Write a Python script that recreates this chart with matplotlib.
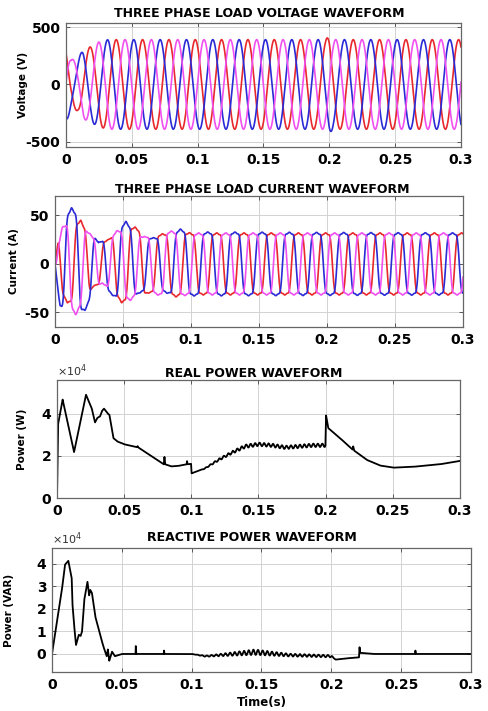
import numpy as np
import matplotlib
matplotlib.use('Agg')
import matplotlib.pyplot as plt

plt.rcParams['font.family'] = ['DejaVu Sans']

# ------------------------------------------------------------------ data
freq_hz = 50.0
x_ticks = [0, 0.05, 0.1, 0.15, 0.2, 0.25, 0.3]
x_tick_labels = ['0', '0.05', '0.1', '0.15', '0.2', '0.25', '0.3']

phase_colors = ['#e8282c', '#2a2ad6', '#f050f0']      # red, blue, magenta
phase_offsets = [-0.658, -0.325, 0.008]               # cycles (read from peak positions)
current_lag = 0.0008                                  # s

# voltage envelope (peak magnitude, V)
volt_env_t = [0, 0.004, 0.009, 0.013, 0.019, 0.025, 0.032, 0.197, 0.2, 0.203, 0.3]
volt_env_v = [330, 215, 230, 300, 330, 370, 390, 390, 425, 390, 390]

# current envelopes (peak magnitude, A) per phase
cur_red_t = [0, 0.0025, 0.009, 0.019, 0.029, 0.039, 0.049, 0.059, 0.069, 0.079, 0.089, 0.1, 0.3]
cur_red_a = [0, 27, 40, 45, 22, 25, 40, 38, 30, 31, 34, 32, 32]
cur_blue_t = [0, 0.0037, 0.012, 0.022, 0.032, 0.042, 0.052, 0.062, 0.072, 0.082, 0.092, 0.1, 0.3]
cur_blue_a = [0, 45, 58, 48, 22, 32, 44, 30, 27, 30, 36, 33, 32]
cur_mag_t = [0, 0.005, 0.015, 0.025, 0.035, 0.045, 0.055, 0.065, 0.075, 0.085, 0.1, 0.3]
cur_mag_a = [0, 37, 53, 32, 20, 34, 38, 28, 32, 34, 32, 32]
cur_harmonics = [1, 3, 5]
cur_harm_weights = [1.0, 0.2, 0.06]

# real power (W)
real_t = [0, 0.0008, 0.0042, 0.0127, 0.0216, 0.0258, 0.0283, 0.030, 0.032, 0.0335, 0.035,
          0.038, 0.039, 0.042, 0.045, 0.05, 0.0595, 0.06, 0.0605, 0.07, 0.0795, 0.080,
          0.0805, 0.085, 0.09, 0.0965, 0.0968, 0.0972, 0.0998, 0.1002, 0.11, 0.12, 0.13,
          0.14, 0.15, 0.16, 0.17, 0.18, 0.19, 0.1998, 0.2003, 0.2019, 0.2107, 0.2200,
          0.2205, 0.2212, 0.2306, 0.2405, 0.2504, 0.265, 0.285, 0.3]
real_p = [0, 35000, 46700, 21800, 49000, 42700, 35900, 38000, 38700, 41300, 42400,
          39900, 39500, 28400, 26800, 25500, 24100, 24600, 24000, 20000, 16000, 19500,
          16000, 15000, 15200, 16000, 17500, 16000, 16200, 11700, 14000, 18000, 21500,
          24500, 25500, 25000, 24000, 24500, 25000, 25000, 39200, 33200, 28400, 23000,
          24500, 22500, 18100, 15400, 14400, 14800, 16000, 17600]
real_ripple_t = [0, 0.105, 0.12, 0.14, 0.1995, 0.2, 0.3]
real_ripple_a = [0, 0, 500, 800, 800, 0, 0]

# reactive power (VAR)
reac_t = [0, 0.007, 0.0093, 0.0117, 0.0141, 0.0146, 0.0158, 0.0172, 0.0192, 0.0205,
          0.0215, 0.0231, 0.0254, 0.0266, 0.0274, 0.0286, 0.031, 0.0345, 0.0368, 0.0392,
          0.0400, 0.0410, 0.0430, 0.0450, 0.05, 0.0598, 0.0600, 0.0603, 0.08, 0.0802,
          0.0805, 0.1, 0.11, 0.12, 0.145, 0.17, 0.2, 0.203, 0.21, 0.2198, 0.2202, 0.2206,
          0.23, 0.26, 0.2602, 0.2605, 0.3]
reac_q = [0, 28000, 39600, 41300, 33600, 22500, 12900, 4000, 8500, 8000,
          10000, 24000, 32000, 26000, 28400, 27000, 16600, 8400, 3300, -1000,
          2000, -3000, 1000, -1000, 0, 0, 3500, 0, 0, 1500,
          0, 0, -1000, -500, 800, -500, -1000, -2500, -2000, -1500, 3000, 500,
          0, 0, 1500, 0, 0]
reac_ripple_t = [0, 0.1, 0.12, 0.145, 0.17, 0.2, 0.202, 0.3]
reac_ripple_a = [0, 0, 500, 1200, 600, 500, 0, 0]
ripple_hz = 300.0

# ------------------------------------------------------------------ signals
t = np.linspace(0, 0.3, 9001)


def phase_wave(k, lag=0.0):
    return 2 * np.pi * (freq_hz * (t - lag) + phase_offsets[k])


volt_env = np.interp(t, volt_env_t, volt_env_v)
voltages = [volt_env * np.sin(phase_wave(k)) for k in range(3)]

cur_env = [np.interp(t, cur_red_t, cur_red_a),
           np.interp(t, cur_blue_t, cur_blue_a),
           np.interp(t, cur_mag_t, cur_mag_a)]
currents = []
theta_ref = np.linspace(0, 2 * np.pi, 2000)
norm = np.max(sum(w * np.sin(h * theta_ref) for h, w in zip(cur_harmonics, cur_harm_weights)))
for k in range(3):
    th = phase_wave(k, current_lag)
    shape = sum(w * np.sin(h * th) for h, w in zip(cur_harmonics, cur_harm_weights)) / norm
    currents.append(cur_env[k] * shape)

real_power = np.interp(t, real_t, real_p) + \
    np.interp(t, real_ripple_t, real_ripple_a) * np.sin(2 * np.pi * ripple_hz * t)
reac_power = np.interp(t, reac_t, reac_q) + \
    np.interp(t, reac_ripple_t, reac_ripple_a) * np.sin(2 * np.pi * ripple_hz * t)

# ------------------------------------------------------------------ figure
W, H = 489, 711
fig = plt.figure(figsize=(W / 100, H / 100), dpi=100)


def add_axes(left, right, top, bottom):
    return fig.add_axes([left / W, 1 - bottom / H, (right - left) / W, (bottom - top) / H])


def style(ax, ylim, yticks, yticklabels, title, title_xy, ylabel, ylabel_x):
    ax.set_xlim(0, 0.3)
    ax.set_ylim(*ylim)
    ax.set_xticks(x_ticks)
    ax.set_xticklabels(x_tick_labels, fontsize=10, fontweight='bold')
    ax.set_yticks(yticks)
    ax.set_yticklabels(yticklabels, fontsize=10, fontweight='bold')
    ax.grid(True, color='#d2d2d2', lw=0.7)
    ax.set_axisbelow(True)
    ax.tick_params(direction='in', length=3, width=0.6, color='#444444',
                   top=True, right=True, pad=4)
    for s in ax.spines.values():
        s.set_color('#666666')
        s.set_linewidth(0.9)
    ax.text(title_xy[0], title_xy[1], title, transform=ax.transAxes, ha='center',
            va='center', fontsize=9, fontweight='bold')
    ax.set_ylabel(ylabel, fontsize=7.5, fontweight='bold')
    ax.yaxis.set_label_coords(ylabel_x, 0.5)


# panel 1 : voltage
ax1 = add_axes(66, 461, 23, 147)
for k in range(3):
    ax1.plot(t, voltages[k], color=phase_colors[k], lw=1.2)
style(ax1, (-545, 535), [-500, 0, 500], ['-500', '0', '500'],
      'THREE PHASE LOAD VOLTAGE WAVEFORM', (0.489, 1.075), 'Voltage (V)', -0.095)

# panel 2 : current
ax2 = add_axes(55, 463, 196, 327)
for k in range(3):
    ax2.plot(t, currents[k], color=phase_colors[k], lw=1.2)
style(ax2, (-65, 70), [-50, 0, 50], ['-50', '0', '50'],
      'THREE PHASE LOAD CURRENT WAVEFORM', (0.509, 1.05), 'Current (A)', -0.088)

# panel 3 : real power
ax3 = add_axes(57, 460, 380, 498)
ax3.plot(t, real_power, color='black', lw=1.3)
style(ax3, (0, 56000), [0, 20000, 40000], ['0', '2', '4'],
      'REAL POWER WAVEFORM', (0.489, 1.055), 'Power (W)', -0.075)
ax3.text(0.0, 1.01, r'$\times$10$^{4}$', transform=ax3.transAxes, ha='left', va='bottom',
         fontsize=8, color='#333333')

# panel 4 : reactive power
ax4 = add_axes(52, 471, 548, 672)
ax4.plot(t, reac_power, color='black', lw=1.3)
style(ax4, (-8000, 47000), [0, 10000, 20000, 30000, 40000], ['0', '1', '2', '3', '4'],
      'REACTIVE POWER WAVEFORM', (0.477, 1.085), 'Power (VAR)', -0.09)
ax4.text(0.0, 1.01, r'$\times$10$^{4}$', transform=ax4.transAxes, ha='left', va='bottom',
         fontsize=8, color='#333333')
ax4.set_xlabel('Time(s)', fontsize=8.5, fontweight='bold', labelpad=3)

fig.savefig('out.png', dpi=100)
